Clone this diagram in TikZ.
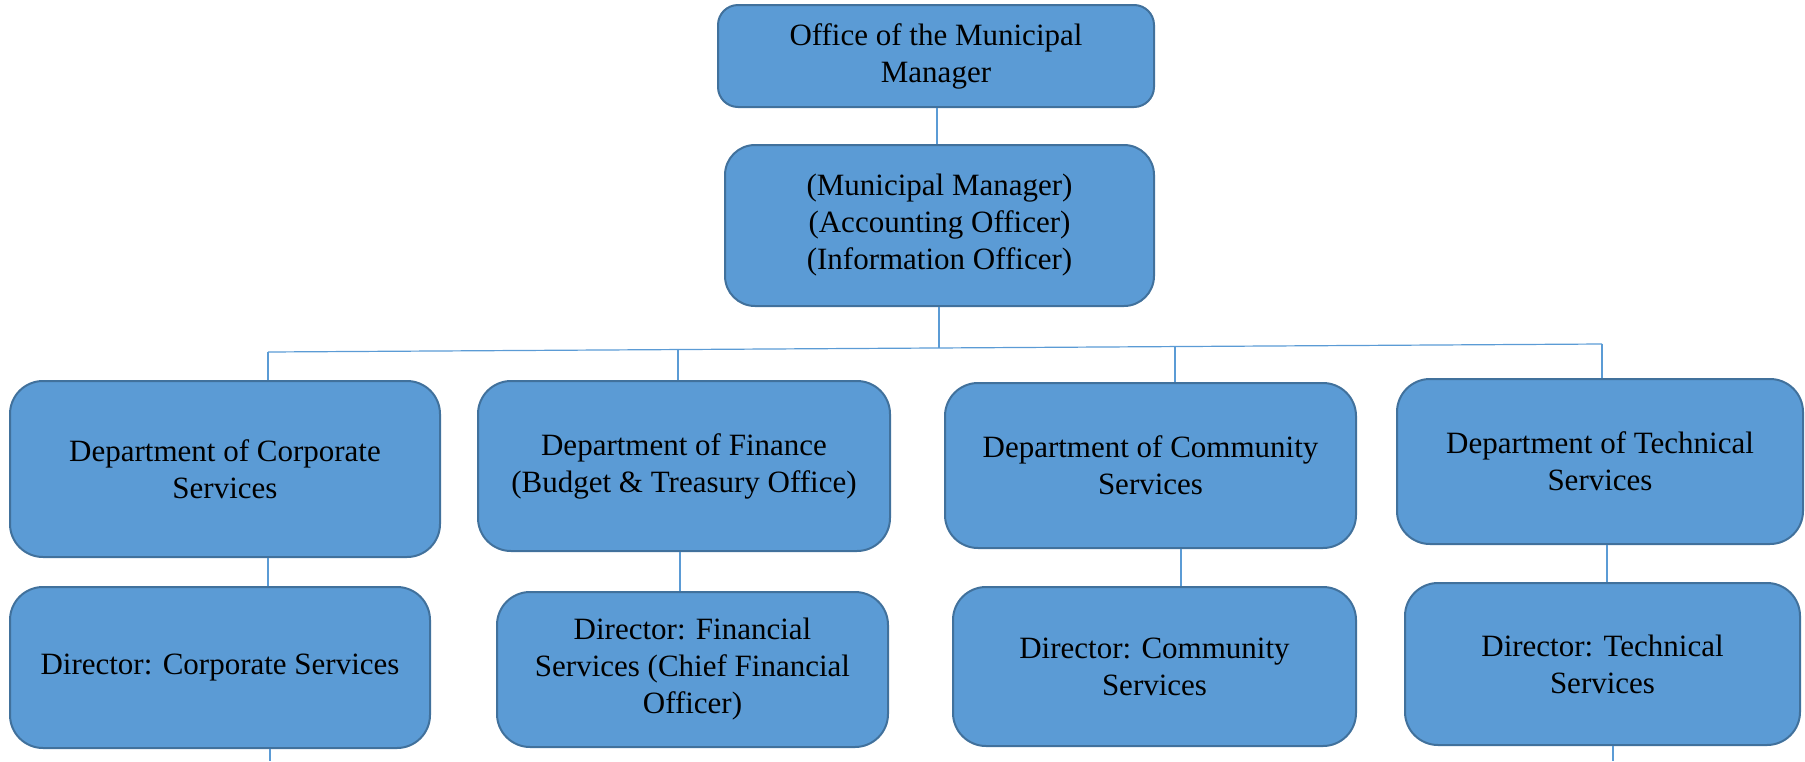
\documentclass[tikz,border=0pt]{standalone}
\usepackage{fontspec}
\setmainfont{Liberation Serif}
\definecolor{boxfill}{HTML}{5B9BD5}
\definecolor{boxedge}{HTML}{41719C}
\definecolor{linkc}{HTML}{5B9BD5}
\tikzset{
  orgbox/.style={draw=boxedge, line width=2pt, fill=boxfill, rounded corners=#1,
    inner sep=0pt, align=center, text=black,
    font=\fontsize{31}{37}\selectfont},
  orgbox/.default=30pt,
  link/.style={draw=linkc, line width=1.2pt}
}
\begin{document}
\begin{tikzpicture}[x=1pt,y=-1pt]
\useasboundingbox (0,0) rectangle (1805,761);
% boxes
\node[orgbox=20pt, minimum width=436pt, minimum height=102pt] (top) at (936,56) {Office of the Municipal\\Manager};
\node[orgbox=30pt, minimum width=429pt, minimum height=161pt] (mm) at (939.5,225.5) {(Municipal Manager)\\(Accounting Officer)\\(Information Officer)};
\node[orgbox=33pt, minimum width=430pt, minimum height=176pt] (d1) at (225,469) {Department of Corporate\\Services};
\node[orgbox=33pt, minimum width=412pt, minimum height=170pt] (d2) at (684,466) {Department of Finance\\(Budget \& Treasury Office)};
\node[orgbox=33pt, minimum width=411pt, minimum height=165pt] (d3) at (1150.5,465.5) {Department of Community\\Services};
\node[orgbox=33pt, minimum width=406pt, minimum height=165pt] (d4) at (1600,461.5) {Department of Technical\\Services};
\node[orgbox=33pt, minimum width=420pt, minimum height=161pt] (r1) at (220,667.5) {Director: Corporate Services};
\node[orgbox=33pt, minimum width=391pt, minimum height=155pt] (r2) at (692.5,669.5) {Director: Financial\\Services (Chief Financial\\Officer)};
\node[orgbox=33pt, minimum width=403pt, minimum height=159pt] (r3) at (1154.5,666.5) {Director: Community\\Services};
\node[orgbox=33pt, minimum width=395pt, minimum height=162pt] (r4) at (1602.5,664) {Director: Technical\\Services};
% bar coordinates
\coordinate (bl) at (268,352);
\coordinate (br) at (1602,344);
\coordinate (b1) at (268,352);
\coordinate (b2) at (678,349.5);
\coordinate (bm) at (939,348);
\coordinate (b3) at (1175,346.6);
\coordinate (b4) at (1602,344);
\coordinate (e1) at (270,761);
\coordinate (e4) at (1613,761);
% connectors
\draw[link] (937,0 |- top.south) -- (937,0 |- mm.north);
\draw[link] (939,0 |- mm.south) -- (bm);
\draw[link] (bl) -- (br);
\draw[link] (b1) -- (b1 |- d1.north);
\draw[link] (b2) -- (b2 |- d2.north);
\draw[link] (b3) -- (b3 |- d3.north);
\draw[link] (b4) -- (b4 |- d4.north);
\draw[link] (268,0 |- d1.south) -- (268,0 |- r1.north);
\draw[link] (680,0 |- d2.south) -- (680,0 |- r2.north);
\draw[link] (1181,0 |- d3.south) -- (1181,0 |- r3.north);
\draw[link] (1607,0 |- d4.south) -- (1607,0 |- r4.north);
\draw[link] (e1 |- r1.south) -- (e1);
\draw[link] (e4 |- r4.south) -- (e4);
\end{tikzpicture}
\end{document}
